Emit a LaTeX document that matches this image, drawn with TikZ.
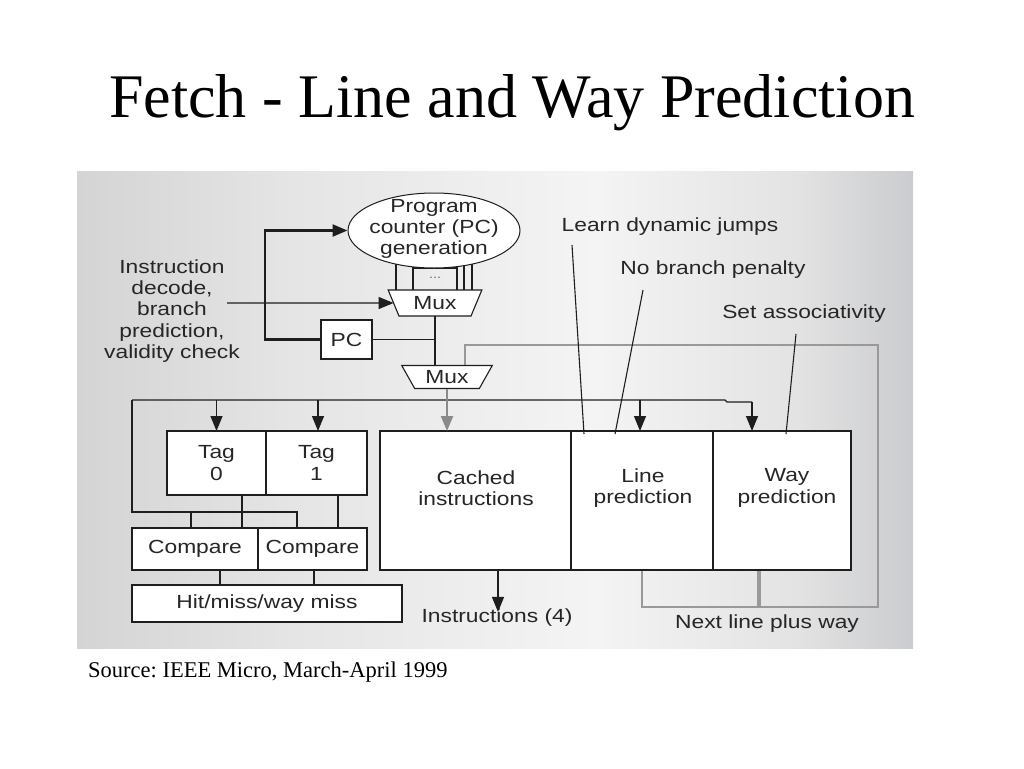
\documentclass[tikz,border=0pt]{standalone}
\usepackage{fontspec}
\setmainfont{Liberation Serif}
\newfontfamily\dg[FakeStretch=1.2]{Liberation Sans}
\usetikzlibrary{arrows.meta,shapes.geometric,calc}
\definecolor{pa}{HTML}{D4D4D4}
\definecolor{pb}{HTML}{E5E5E5}
\definecolor{pc}{HTML}{F4F4F4}
\definecolor{pd}{HTML}{E3E3E3}
\definecolor{pe}{HTML}{CBCCCF}
\definecolor{wire}{HTML}{1E1E1E}
\definecolor{grey}{HTML}{999999}
\pgfdeclarehorizontalshading{panelshade}{100bp}{color(0bp)=(pa); color(25bp)=(pa); color(38bp)=(pb); color(56bp)=(pc); color(68bp)=(pd); color(75bp)=(pe); color(100bp)=(pe)}
\pgfdeclarelayer{back}
\pgfdeclarelayer{mid}
\pgfsetlayers{back,mid,main}
\frenchspacing
\begin{document}
\begin{tikzpicture}[x=1pt,y=-1pt,
  txt/.style={font=\dg\fontsize{19}{21.3}\selectfont, text=black!85, align=center, inner sep=0pt},
  box/.style={draw=wire, fill=white, line width=1.3pt, inner sep=0pt, outer sep=0pt, anchor=north west, txt},
  thinl/.style={draw=wire, line width=1.2pt},
  thickl/.style={draw=wire, line width=2.4pt},
  annl/.style={draw=wire, line width=1.1pt},
  greyl/.style={draw=grey, line width=2.2pt},
  tip/.style={-{Triangle[length=15pt,width=12pt]}},
  mux/.style={trapezium, draw=wire, fill=white, line width=1.1pt, shape border rotate=180,
    trapezium stretches=true, inner sep=0pt, outer sep=0pt, txt}
]
\useasboundingbox (0,0) rectangle (1024,768);
\begin{pgfonlayer}{back}
\fill[white] (0,0) rectangle (1024,768);
\shade[shading=panelshade] (77,171) rectangle (913,648);
\end{pgfonlayer}

% title and source
\node[font=\fontsize{62}{70}\selectfont, anchor=base, inner sep=0pt] (title) at (512,117) {Fetch - Line and Way Prediction};
\node[font=\fontsize{22.5}{26}\selectfont, anchor=base west, inner sep=0pt] (src) at (88,677) {Source: IEEE Micro, March-April 1999};

% top part
\node[draw=wire, ellipse, fill=white, minimum width=172pt, minimum height=75pt, inner sep=0pt, line width=1pt] (ell) at (434,230.5) {};
\node[txt] (ellt) at (434,229) {Program\\counter (PC)\\generation};
\node[mux, minimum width=94pt, minimum height=26pt, trapezium left angle=64, trapezium right angle=64] (mux1) at (435,303) {Mux};
\node[mux, minimum width=91pt, minimum height=23pt, trapezium left angle=57, trapezium right angle=57] (mux2) at (447,377) {Mux};
\node[box, minimum width=51pt, minimum height=39pt] (pc) at (321,320) {PC};
\node[txt] (decode) at (172,311) {Instruction\\decode,\\branch\\prediction,\\validity check};
\node[font=\dg\fontsize{12}{12}\selectfont, text=black!60, inner sep=0pt] (dots) at (435,278) {...};

\begin{pgfonlayer}{mid}
\foreach \dx in {-39,-22,22,29,37} \draw[thinl] ([xshift=\dx pt]mux1.north) -- ++(0,-30);
\draw[annl] ([xshift=-22pt,yshift=22pt]mux1.north) -- ([xshift=22pt,yshift=22pt]mux1.north);
\end{pgfonlayer}

\coordinate (inp) at (227,303);
\draw[annl, tip] (inp) -- (mux1.west);
\draw[thinl] (mux1.south) -- (mux1.south |- mux2.north);
\coordinate (j1) at (mux1.south |- pc.east);
\draw[thinl] (pc.east) -- (j1);
\draw[thickl, tip] (pc.west) -- ++(-56,0) |- (ell.west);

% boxes
\node[box, minimum width=99pt, minimum height=64pt] (tag0) at (167,431) {Tag\\0};
\node[box, minimum width=101pt, minimum height=64pt] (tag1) at (266,431) {Tag\\1};
\node[box, minimum width=126pt, minimum height=42pt] (cmpL) at (132,528) {Compare};
\node[box, minimum width=109pt, minimum height=42pt] (cmpR) at (258,528) {Compare};
\node[box, minimum width=270pt, minimum height=37pt] (hit) at (132,585) {Hit/miss/way miss};
\node[box, minimum width=191pt, minimum height=139pt] (cached) at (380,431) {};
\node[box, minimum width=142pt, minimum height=139pt] (linep) at (571,431) {};
\node[box, minimum width=138pt, minimum height=139pt] (wayp) at (713,431) {};
\draw[draw=wire, line width=2.6pt] (wayp.north west) -- (wayp.south west);
\node[txt] (cachedt) at (476,488) {Cached\\instructions};
\node[txt] (linet) at (643,488) {Line\\prediction};
\node[txt] (wayt) at (787,488) {Way\\prediction};
\node[txt] (instr) at (497,618) {Instructions (4)};
\node[txt] (learn) at (670,227) {Learn dynamic jumps};
\node[txt] (nobr) at (713,270) {No branch penalty};
\node[txt] (setas) at (804,314) {Set associativity};
\node[txt] (nextl) at (767,624) {Next line plus way};

% grey feedback
\coordinate (gtr) at (878,345);
\coordinate (gbr) at (878,607);
\begin{pgfonlayer}{mid}
\draw[greyl] ([xshift=18pt]mux2.north) |- (gtr) -- (gbr) -| (linep.south);
\draw[draw=grey, line width=3.4pt] ([xshift=-23pt]wayp.south) -- ([xshift=-23pt]wayp.south |- gbr);
\end{pgfonlayer}
\draw[greyl, draw=grey!90!black, -{Triangle[length=15pt,width=12pt]}, grey!90!black] (mux2.south) -- (mux2.south |- cached.north);

% black bus
\coordinate (busL) at (132,400);
\coordinate (busS) at (725,400);
\coordinate (busR) at (752,402);
\coordinate (busLL) at (132,512);
\begin{pgfonlayer}{mid}
\draw[thinl] (busL) -- (busS) -- ++(2,2) -- (busR);
\draw[thinl] (busL) -- (busLL) -| ([xshift=-15.5pt]cmpR.north);
\draw[thinl] ([xshift=-4pt]cmpL.north |- busLL) -- ([xshift=-4pt]cmpL.north);
\end{pgfonlayer}
\draw[thinl, tip] (tag0.north |- busL) -- (tag0.north);
\draw[thinl, tip] ([xshift=1.5pt]tag1.north |- busL) -- ([xshift=1.5pt]tag1.north);
\draw[thinl, tip] ([xshift=-2pt]linep.north |- busL) -- ([xshift=-2pt]linep.north);
\draw[thinl, tip] (busR) -- (busR |- wayp.north);
\draw[thinl] ([xshift=25.5pt]tag0.south) -- ([xshift=25.5pt]tag0.south |- cmpL.north);
\draw[thinl] ([xshift=21.5pt]tag1.south) -- ([xshift=21.5pt]tag1.south |- cmpR.north);
\draw[thinl] ([xshift=25pt]cmpL.south) -- ([xshift=25pt]cmpL.south |- hit.north);
\draw[thinl] ([xshift=1.5pt]cmpR.south) -- ([xshift=1.5pt]cmpR.south |- hit.north);
\draw[thinl, tip] ([xshift=22.5pt]cached.south) -- ([xshift=22.5pt,yshift=-3pt]cached.south |- instr.north);

% annotation leaders
\coordinate (la) at (572,245);
\coordinate (nb) at (643,290);
\coordinate (sa) at (796,334);
\draw[annl] (la) -- ([xshift=13pt,yshift=-3pt]linep.north west);
\draw[annl] (nb) -- ([xshift=44pt,yshift=-3pt]linep.north west);
\draw[annl] (sa) -- ([xshift=73pt,yshift=-3pt]wayp.north west);
\end{tikzpicture}
\end{document}
